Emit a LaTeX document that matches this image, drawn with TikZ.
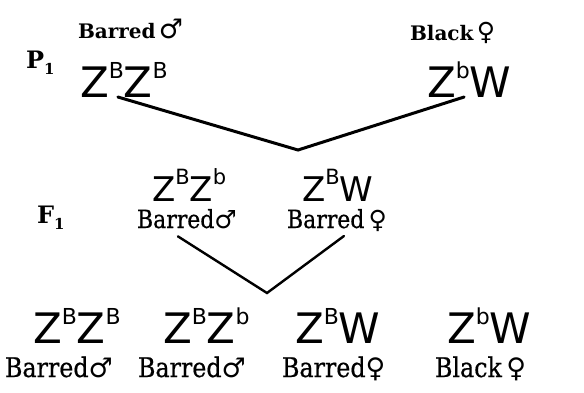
\documentclass[tikz,border=0pt]{standalone}
\usepackage{fontspec}
\setmainfont{DejaVu Serif}
\newfontfamily\labfont[FakeStretch=0.88,FakeBold=0.6]{DejaVu Serif}
\newfontfamily\gfont{DejaVu Sans}
\newfontfamily\symfont{DejaVu Sans}
\newcommand{\Male}{{\symfont ♂}}
\newcommand{\Female}{{\symfont ♀}}
\newcommand{\BigMale}{{\symfont\fontsize{27}{27}\selectfont ♂}}
\newcommand{\BigFemale}{{\symfont\fontsize{25}{25}\selectfont ♀}}
\newcommand{\up}[3]{\raisebox{#2}{\fontsize{#1}{#1}\selectfont #3}}
\begin{document}
\begin{tikzpicture}[x=1pt,y=-1pt,
  every node/.style={inner sep=0pt,outer sep=0pt,anchor=base west},
  toplab/.style={font=\fontsize{20}{20}\selectfont\bfseries},
  lab/.style={font=\labfont\fontsize{27}{27}\selectfont},
  labmid/.style={font=\labfont\fontsize{25}{25}\selectfont},
  gen/.style={font=\gfont\fontsize{42}{42}\selectfont},
  genmid/.style={font=\gfont\fontsize{34}{34}\selectfont},
  gtag/.style={font=\fontsize{24}{24}\selectfont\bfseries},
  cross/.style={line width=3pt,line cap=round,line join=miter},
  cross2/.style={line width=2.4pt,line cap=round,line join=miter}]
\useasboundingbox (0,0) rectangle (584,392);
% P1
\node[gtag] (p1) at (26,68) {P\up{15}{-6pt}{1}};
\node[toplab] (p1ml) at (78,38) {Barred\,\BigMale};
\node[toplab] (p1fl) at (410,40) {Black\,\BigFemale};
\node[gen] (p1m) at (80,97) {Z\up{22}{19pt}{B}Z\up{22}{19pt}{B}};
\node[gen] (p1f) at (427,97) {Z\up{22}{19pt}{b}W};
\coordinate (v1) at (298,150);
\draw[cross] ([xshift=-6pt]p1m.south) -- (v1) -- ([xshift=-5pt]p1f.south);
% F1
\node[gtag] (f1) at (37,223) {F\up{15}{-6pt}{1}};
\node[genmid] (f1m) at (152,201) {Z\up{21}{17pt}{B}Z\up{21}{17pt}{b}};
\node[genmid] (f1f) at (302,201) {Z\up{21}{17pt}{B}W};
\node[labmid] (f1ml) at (137,228) {Barred\Male};
\node[labmid] (f1fl) at (287,228) {Barred\,\Female};
\coordinate (v2) at (267,293);
\draw[cross2] ([xshift=-9pt,yshift=-8pt]f1ml.south) -- (v2) -- ([xshift=7pt,yshift=-8pt]f1fl.base);
% F2
\node[gen] (g1) at (33,343) {Z\up{22}{19pt}{B}Z\up{22}{19pt}{B}};
\node[gen] (g2) at (163,343) {Z\up{22}{19pt}{B}Z\up{22}{19pt}{b}};
\node[gen] (g3) at (295,343) {Z\up{22}{19pt}{B}W};
\node[gen] (g4) at (447,343) {Z\up{22}{19pt}{b}W};
\node[lab] (l1) at (5,377) {Barred\Male};
\node[lab] (l2) at (138,377) {Barred\Male};
\node[lab] (l3) at (282,377) {Barred\Female};
\node[lab] (l4) at (435,377) {Black\,\Female};
\end{tikzpicture}
\end{document}
